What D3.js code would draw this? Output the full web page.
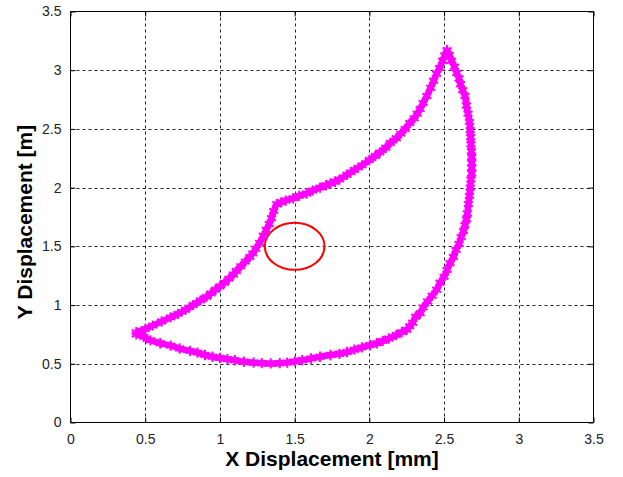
<!DOCTYPE html>
<html>
<head>
<meta charset="utf-8">
<script src="https://cdn.jsdelivr.net/npm/d3@7"></script>
<style>
  html, body { margin: 0; padding: 0; background: #fff; }
  svg { display: block; }
</style>
</head>
<body>
<svg id="chart" width="623" height="477"></svg>
<script>
// ---- data ----
const xTicks = [0, 0.5, 1, 1.5, 2, 2.5, 3, 3.5];
const yTicks = [0, 0.5, 1, 1.5, 2, 2.5, 3, 3.5];
const xTickLabels = ["0", "0.5", "1", "1.5", "2", "2.5", "3", "3.5"];
const yTickLabels = ["0", "0.5", "1", "1.5", "2", "2.5", "3", "3.5"];
const xLabel = "X Displacement [mm]";
const yLabel = "Y Displacement [m]";

// trajectory loop (x, y)
const trajX = [
  0.44, 0.50, 0.55, 0.61, 0.67, 0.72, 0.77, 0.82, 0.87, 0.91, 0.94, 0.97, 1.00, 1.03, 1.06, 1.09, 1.11, 1.14,
  1.17, 1.20, 1.22, 1.24, 1.265, 1.29, 1.31, 1.33, 1.345, 1.36, 1.38,
  1.41, 1.44, 1.49, 1.53, 1.58, 1.62, 1.67, 1.71, 1.74, 1.77, 1.80, 1.85, 1.90, 1.95, 2.00, 2.04, 2.07, 2.11,
  2.14, 2.18, 2.21, 2.24, 2.27, 2.30, 2.32, 2.34, 2.36, 2.385, 2.41, 2.43, 2.45, 2.47, 2.49, 2.505, 2.52,
  2.535, 2.55, 2.57, 2.585, 2.60, 2.61, 2.625, 2.64, 2.65, 2.66, 2.67, 2.675, 2.678, 2.68, 2.683, 2.685, 2.685,
  2.685, 2.685, 2.68, 2.675, 2.67, 2.663, 2.656, 2.65, 2.64, 2.63, 2.615, 2.60, 2.58, 2.563, 2.54,
  2.52, 2.50, 2.473, 2.45, 2.42, 2.39, 2.36, 2.34, 2.31, 2.29, 2.27, 2.25, 2.217,
  2.18, 2.13, 2.09, 2.05, 2.005, 1.95, 1.90, 1.85, 1.80, 1.74, 1.67, 1.61, 1.55, 1.50, 1.45, 1.40, 1.34,
  1.28, 1.225, 1.16, 1.10, 1.05, 1.00, 0.95, 0.90, 0.85, 0.80, 0.73, 0.67, 0.60, 0.535, 0.49, 0.44
];
const trajY = [
  0.77, 0.795, 0.825, 0.86, 0.895, 0.925, 0.96, 1.00, 1.04, 1.07, 1.10, 1.13, 1.16, 1.19, 1.225, 1.26, 1.29, 1.33,
  1.37, 1.41, 1.44, 1.48, 1.53, 1.59, 1.64, 1.69, 1.74, 1.80, 1.86,
  1.875, 1.89, 1.91, 1.93, 1.95, 1.975, 2.00, 2.02, 2.035, 2.05, 2.07, 2.11, 2.15, 2.19, 2.235, 2.27, 2.30, 2.34,
  2.38, 2.42, 2.46, 2.50, 2.55, 2.59, 2.63, 2.67, 2.72, 2.78, 2.85, 2.91, 2.97, 3.02, 3.08, 3.125, 3.17,
  3.13, 3.08, 3.03, 2.975, 2.93, 2.88, 2.83, 2.78, 2.70, 2.63, 2.56, 2.49, 2.43, 2.37, 2.31, 2.26, 2.21,
  2.17, 2.12, 2.07, 2.00, 1.93, 1.86, 1.78, 1.73, 1.68, 1.63, 1.58, 1.52, 1.47, 1.41, 1.356, 1.30,
  1.24, 1.19, 1.13, 1.08, 1.03, 0.98, 0.93, 0.90, 0.85, 0.82, 0.79, 0.77, 0.745,
  0.715, 0.695, 0.675, 0.66, 0.64, 0.62, 0.60, 0.585, 0.575, 0.56, 0.545, 0.53, 0.52, 0.51, 0.505, 0.503, 0.505,
  0.51, 0.517, 0.53, 0.54, 0.55, 0.56, 0.575, 0.595, 0.61, 0.63, 0.655, 0.675, 0.70, 0.73, 0.75, 0.77
];

const circleCenter = [1.5, 1.5];
const circleRadius = 0.2;

// ---- layout ----
const svg = d3.select("#chart");
const pLeft = 70.5, pRight = 593.5, pTop = 11.5, pBottom = 422.5;

const x = d3.scaleLinear().domain([0, 3.5]).range([pLeft, pRight]);
const y = d3.scaleLinear().domain([0, 3.5]).range([pBottom, pTop]);

const FONT = "'Liberation Sans', Arial, Helvetica, sans-serif";

// grid
const grid = svg.append("g").attr("stroke", "#000").attr("stroke-width", 1)
  .attr("stroke-dasharray", "3,3").attr("opacity", 0.85);
xTicks.slice(1, -1).forEach(t => {
  const px = Math.round(x(t)) + 0.5;
  grid.append("line").attr("x1", px).attr("x2", px).attr("y1", pTop).attr("y2", pBottom);
});
yTicks.slice(1, -1).forEach(t => {
  const py = Math.round(y(t)) + 0.5;
  grid.append("line").attr("y1", py).attr("y2", py).attr("x1", pLeft).attr("x2", pRight);
});

// axes (inward ticks, box)
const xAxisB = d3.axisBottom(x).tickValues(xTicks).tickSize(-5).tickPadding(12)
  .tickFormat((d, i) => xTickLabels[i]);
const xAxisT = d3.axisTop(x).tickValues(xTicks).tickSize(-5).tickFormat("");
const yAxisL = d3.axisLeft(y).tickValues(yTicks).tickSize(-5).tickPadding(9)
  .tickFormat((d, i) => yTickLabels[i]);
const yAxisR = d3.axisRight(y).tickValues(yTicks).tickSize(-5).tickFormat("");

function styleAxis(g) {
  g.selectAll("path.domain").attr("stroke", "#000").attr("stroke-width", 1);
  g.selectAll(".tick line").attr("stroke", "#000");
  g.selectAll(".tick text").attr("fill", "#222").style("font-family", FONT).style("font-size", "14px");
}
svg.append("g").attr("transform", `translate(0,${pBottom})`).call(xAxisB).call(styleAxis)
  .selectAll("path.domain").attr("d", `M${pLeft},0H${pRight}`);
svg.append("g").attr("transform", `translate(0,${pTop})`).call(xAxisT).call(styleAxis)
  .selectAll("path.domain").attr("d", `M${pLeft},0H${pRight}`);
svg.append("g").attr("transform", `translate(${pLeft},0)`).call(yAxisL).call(styleAxis)
  .selectAll("path.domain").attr("d", `M0,${pTop}V${pBottom}`);
svg.append("g").attr("transform", `translate(${pRight},0)`).call(yAxisR).call(styleAxis)
  .selectAll("path.domain").attr("d", `M0,${pTop}V${pBottom}`);

// red circle (radius in data units)
svg.append("ellipse")
  .attr("cx", x(circleCenter[0])).attr("cy", y(circleCenter[1]))
  .attr("rx", x(circleCenter[0] + circleRadius) - x(circleCenter[0]))
  .attr("ry", y(circleCenter[1] - circleRadius) - y(circleCenter[1]))
  .attr("fill", "none").attr("stroke", "#ff0000").attr("stroke-width", 2);

// trajectory
const pts = trajX.map((v, i) => [v, trajY[i]]);
const line = d3.line().x(d => x(d[0])).y(d => y(d[1])).curve(d3.curveCatmullRom.alpha(0.5));
svg.append("path").datum(pts).attr("d", line)
  .attr("fill", "none").attr("stroke", "#ff00ff").attr("stroke-width", 6.5)
  .attr("stroke-linejoin", "round");

const star = d3.symbol().type(d3.symbolAsterisk).size(75);
svg.append("g").selectAll("path").data(pts).join("path")
  .attr("transform", d => `translate(${x(d[0])},${y(d[1])})`)
  .attr("d", star)
  .attr("fill", "none").attr("stroke", "#ff00ff").attr("stroke-width", 2);

// axis labels
svg.append("text").attr("x", (pLeft + pRight) / 2).attr("y", 466)
  .attr("text-anchor", "middle").style("font-family", FONT).style("font-weight", "bold")
  .style("font-size", "21px").attr("fill", "#000").text(xLabel);
svg.append("text").attr("transform", `translate(32,${(pTop + pBottom) / 2 + 5}) rotate(-90)`)
  .attr("text-anchor", "middle").style("font-family", FONT).style("font-weight", "bold")
  .style("font-size", "21px").attr("fill", "#000").text(yLabel);
</script>
</body>
</html>
